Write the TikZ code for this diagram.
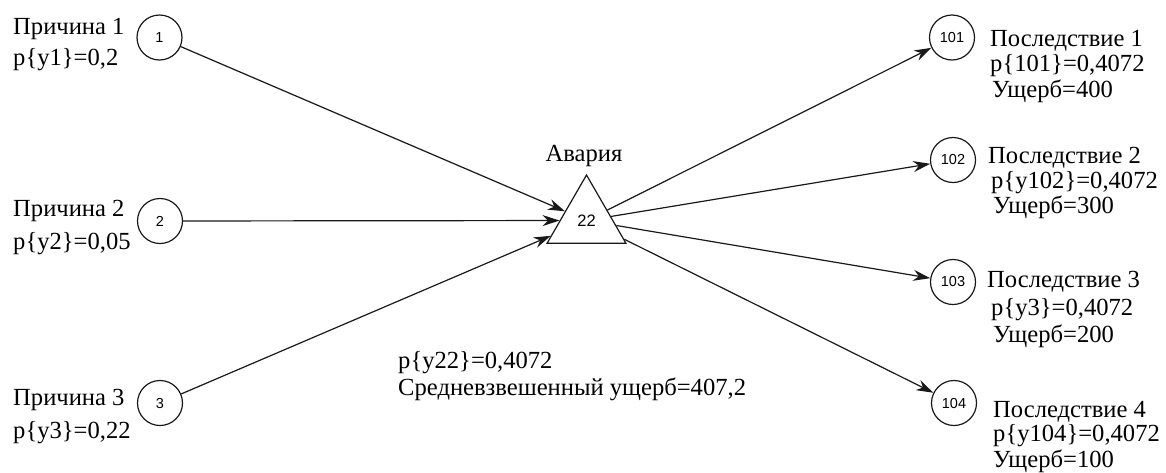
\documentclass[tikz,border=0pt]{standalone}
\usepackage{fontspec}
\setmainfont{Liberation Serif}
\newfontfamily\numfont{Liberation Sans}
\usetikzlibrary{shapes.geometric,arrows.meta}
\begin{document}
\begin{tikzpicture}[x=1pt,y=-1pt,
  lbl/.style={inner sep=0pt,anchor=base west,font=\rmfamily\fontsize{24.6}{28}\selectfont},
  evt/.style={circle,draw=black!90,line width=1.2pt,minimum size=45pt,inner sep=0pt,font=\numfont\fontsize{14.5}{16}\selectfont},
  acc/.style={regular polygon,regular polygon sides=3,draw=black!90,line width=1.2pt,minimum size=91pt,inner sep=0pt,font=\numfont\fontsize{16.5}{18}\selectfont},
  link/.style={line width=1.2pt,draw=black!90,-{Stealth[length=17pt,width=11pt]}}]
\useasboundingbox (0,0) rectangle (1166,472);
% event nodes
\node[evt] (c1) at (159.5,37.5) {1};
\node[evt] (c2) at (160,221) {2};
\node[evt] (c3) at (160,403) {3};
\node[acc] (t) at (586.5,220.5) {22};
\node[evt] (c101) at (952,37.5) {101};
\node[evt] (c102) at (953,160) {102};
\node[evt] (c103) at (953,282) {103};
\node[evt] (c104) at (954,403) {104};
% connectors
\draw[link] (c1) -- (t);
\draw[link] (c2) -- (t);
\draw[link] (c3) -- (t);
\draw[link] (t) -- (c101);
\draw[link] (t) -- (c102);
\draw[link] (t) -- (c103);
\draw[link] (t) -- (c104);
% left labels
\node[lbl] (l1a) at (13,34) {Причина 1};
\node[lbl] (l1b) at (13,65) {p\{y1\}=0,2};
\node[lbl] (l2a) at (13,216) {Причина 2};
\node[lbl] (l2b) at (13,249) {p\{y2\}=0,05};
\node[lbl] (l3a) at (13,405) {Причина 3};
\node[lbl] (l3b) at (13,438) {p\{y3\}=0,22};
% centre labels
\node[lbl,anchor=base] (ta) at (584,161) {Авария};
\node[lbl] (tb) at (398,368) {p\{y22\}=0,4072};
\node[lbl] (tc) at (398,395) {Средневзвешенный ущерб=407,2};
% right labels
\node[lbl] (r1a) at (990,46) {Последствие 1};
\node[lbl] (r1b) at (990,71) {p\{101\}=0,4072};
\node[lbl] (r1c) at (992,97) {Ущерб=400};
\node[lbl] (r2a) at (988,163) {Последствие 2};
\node[lbl] (r2b) at (991,188) {p\{y102\}=0,4072};
\node[lbl] (r2c) at (993,213) {Ущерб=300};
\node[lbl] (r3a) at (987,287) {Последствие 3};
\node[lbl] (r3b) at (991,315) {p\{y3\}=0,4072};
\node[lbl] (r3c) at (993,342) {Ущерб=200};
\node[lbl] (r4a) at (993,417) {Последствие 4};
\node[lbl] (r4b) at (993,441) {p\{y104\}=0,4072};
\node[lbl] (r4c) at (993,467) {Ущерб=100};
\end{tikzpicture}
\end{document}
